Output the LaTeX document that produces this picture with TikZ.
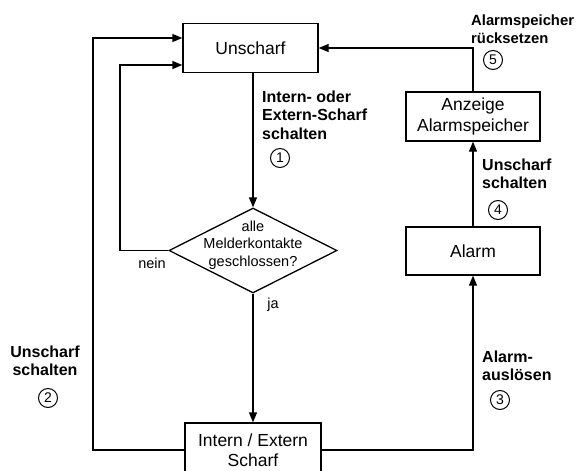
\documentclass[tikz,border=0pt]{standalone}
\usepackage{fontspec}
\setmainfont{Liberation Sans}
\usetikzlibrary{arrows.meta,shapes.geometric,calc}
\begin{document}
\begin{tikzpicture}[x=1pt,y=-1pt,
  box/.style={draw,line width=1.3pt,inner sep=0pt,align=center,font=\fontsize{17.5}{20.5}\selectfont},
  lbl/.style={font=\fontsize{16}{18.5}\selectfont\bfseries,align=left,anchor=west,inner sep=0pt},
  num/.style={draw,circle,line width=1pt,minimum size=19pt,inner sep=0pt,font=\fontsize{14}{14}\selectfont},
  conn/.style={line width=1.3pt},
  arr/.style={conn,-{Triangle[length=10pt,width=8pt]}},
  small/.style={font=\fontsize{14.5}{17.5}\selectfont,inner sep=0pt}]
\useasboundingbox (0,0) rectangle (579,471);
\clip (0,0) rectangle (579,471);
\fill[white] (0,0) rectangle (579,471);

\node[box,minimum width=135pt,minimum height=49pt] (u) at (250.5,48) {Unscharf};
\node[diamond,draw,line width=1.3pt,minimum width=168pt,minimum height=85pt,inner sep=0pt] (d) at (253,250.5) {};
\node[small,align=center] (dt) at (253,245) {alle\\Melderkontakte\\geschlossen?};
\node[box,minimum width=136pt,minimum height=54pt] (i) at (253,450) {Intern / Extern\\Scharf};
\node[box,minimum width=134pt,minimum height=49pt] (z) at (473,116.5) {Anzeige\\Alarmspeicher};
\node[box,minimum width=134pt,minimum height=48pt] (a) at (473,251) {Alarm};

\coordinate (c1) at (93,38);
\coordinate (c2) at (120,65);
\draw[arr] (i.west) -| (c1) -- (c1 -| u.west);
\draw[arr] (d.west) -| (c2) -- (c2 -| u.west);
\draw[arr] (d.north |- u.south) -- (d.north);
\draw[arr] (d.south) -- (i.north);
\draw[arr] (i.east) -| (a.south);
\draw[arr] (a.north) -- (z.south);
\draw[arr] (z.north) |- (u.east);

\node[lbl] (l1) at (262,115) {Intern- oder\\Extern-Scharf\\schalten};
\node[num] (n1) at (280,158) {1};
\node[lbl,font=\fontsize{14.8}{18}\selectfont\bfseries] (l5) at (471,29) {Alarmspeicher\\rücksetzen};
\node[num] (n5) at (493,60) {5};
\node[lbl] (l4) at (482,174) {Unscharf\\schalten};
\node[num] (n4) at (498,210) {4};
\node[lbl] (l3) at (482,366) {Alarm-\\auslösen};
\node[num] (n3) at (500,400) {3};
\node[lbl,anchor=center,align=center] (l2) at (45,361) {Unscharf\\schalten};
\node[num] (n2) at (48,398) {2};
\node[small] (nn) at (152,263) {nein};
\node[small] (ja) at (273,305) {ja};
\end{tikzpicture}
\end{document}
